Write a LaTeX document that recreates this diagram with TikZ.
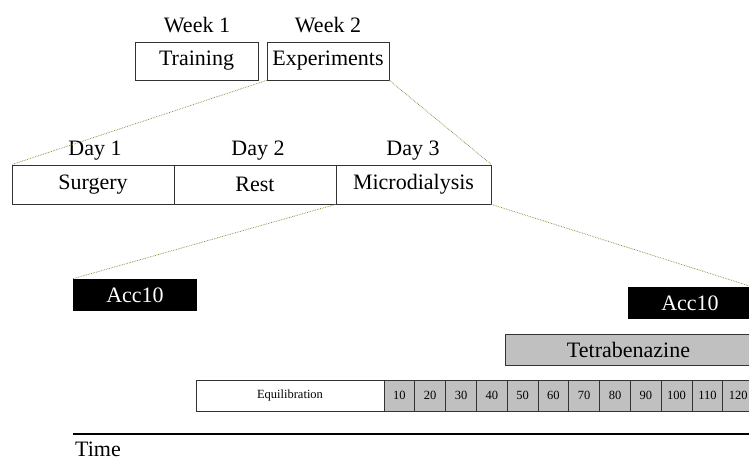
\documentclass[tikz,border=0pt]{standalone}
\usepackage{fontspec}
\setmainfont{Liberation Serif}
\definecolor{linkcol}{RGB}{125,125,50}
\definecolor{cellgrey}{RGB}{192,192,192}
\tikzset{
	lbl/.style={font=\fontsize{22}{26}\selectfont,inner sep=0pt},
	stage/.style={draw=black!80,line width=0.8pt,inner sep=0pt,minimum height=38pt,font=\fontsize{22}{26}\selectfont},
	acc/.style={fill=black,text=white,inner sep=0pt,minimum width=124pt,minimum height=32pt,font=\fontsize{22}{26}\selectfont},
	drug/.style={draw=black!80,fill=cellgrey,line width=0.8pt,inner sep=0pt,minimum width=247pt,minimum height=31pt,font=\fontsize{22}{26}\selectfont},
	cell/.style={draw=black!80,fill=cellgrey,line width=0.8pt,inner sep=0pt,minimum width=30.8pt,minimum height=31pt,font=\fontsize{12.5}{14}\selectfont},
	zoomline/.style={densely dotted,linkcol,line width=0.7pt}
}
\begin{document}
\begin{tikzpicture}[x=1pt,y=-1pt]
		\useasboundingbox (0,0) rectangle (749,463);
		\clip (0,0) rectangle (749,463);
		% weeks
		\node[lbl,anchor=base] (wk1) at (197,32) {Week 1};
		\node[lbl,anchor=base] (wk2) at (328,32) {Week 2};
		\node[stage,minimum width=123pt] (train) at (196.5,61) {Training};
		\node[stage,minimum width=122pt] (exper) at (328,61) {Experiments};
		% days
		\node[lbl,anchor=base] (day1) at (95,155) {Day 1};
		\node[lbl,anchor=base] (day2) at (258,155) {Day 2};
		\node[lbl,anchor=base] (day3) at (413,155) {Day 3};
		\node[stage,minimum width=162pt,minimum height=39pt] (surg) at (93,184.5) {Surgery};
		\node[stage,minimum width=162pt,minimum height=39pt] (rest) at (255,184.5) {Rest};
		\node[stage,minimum width=155pt,minimum height=39pt] (micro) at (413.5,184.5) {Microdialysis};
		% microdialysis session
		\node[acc] (accA) at (135,295) {Acc10};
		\node[acc] (accB) at (690,303) {Acc10};
		\node[drug] (tbz) at (628.5,349.5) {Tetrabenazine};
		\node[cell,fill=white,minimum width=188pt] (equil) at (290,395.5) {Equilibration};
		\foreach \t [count=\i] in {10,20,...,120}
			\node[cell] (c\t) at ({384+30.8*(\i-0.5)},395.5) {\t};
		% zoom lines
		\draw[zoomline] (exper.south west) -- (surg.north west);
		\draw[zoomline] (exper.south east) -- (micro.north east);
		\draw[zoomline] (micro.south west) -- (accA.north west);
		\draw[zoomline] (micro.south east) -- (accB.north east);
		% time axis
		\coordinate (t0) at (73,434);
		\coordinate (t1) at (760,434);
		\draw[line width=1.2pt] (t0) -- (t1);
		\node[lbl,anchor=base west] (time) at (75,456) {Time};
\end{tikzpicture}
\end{document}
